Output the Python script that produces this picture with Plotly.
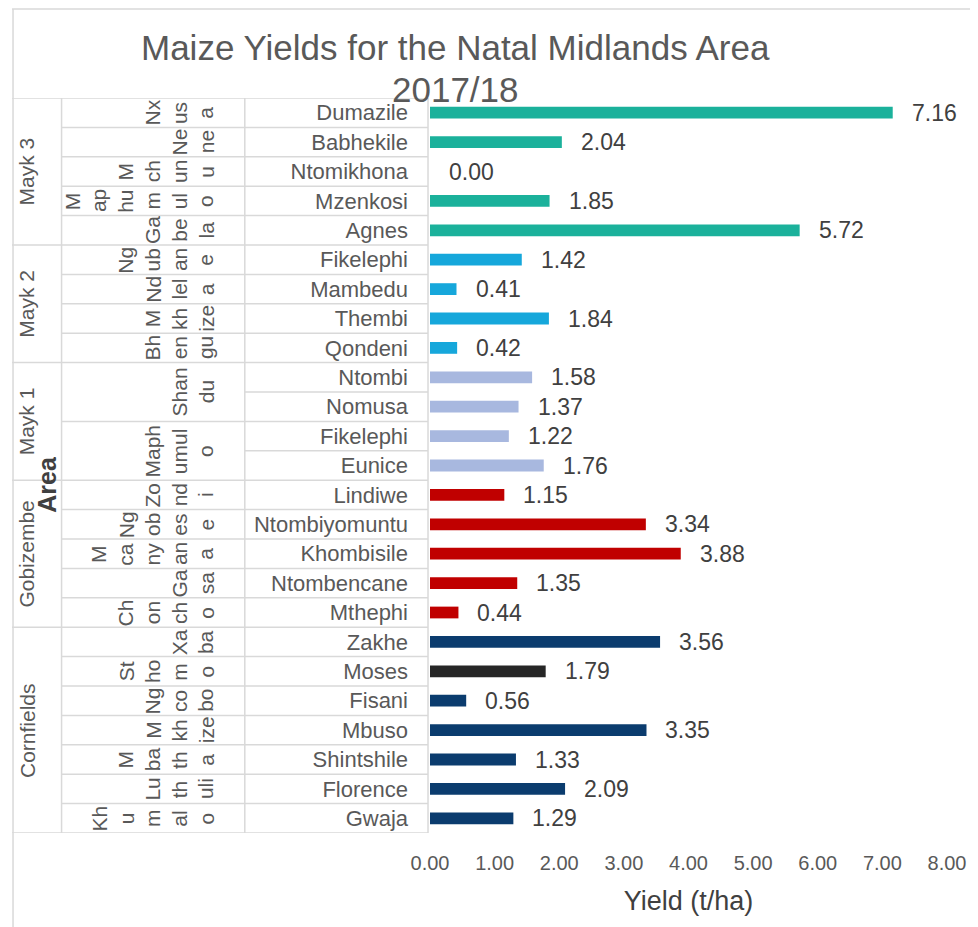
import plotly.graph_objects as go

# ---------------- data ----------------
areas = ["Mayk 3", "Mayk 2", "Mayk 1", "Gobizembe", "Cornfields"]
area_sizes = [5, 4, 4, 5, 7]

farmers = ["Dumazile", "Babhekile", "Ntomikhona", "Mzenkosi", "Agnes",
           "Fikelephi", "Mambedu", "Thembi", "Qondeni",
           "Ntombi", "Nomusa", "Fikelephi", "Eunice",
           "Lindiwe", "Ntombiyomuntu", "Khombisile", "Ntombencane", "Mthephi",
           "Zakhe", "Moses", "Fisani", "Mbuso", "Shintshile", "Florence", "Gwaja"]
yields = [7.16, 2.04, 0.00, 1.85, 5.72,
          1.42, 0.41, 1.84, 0.42,
          1.58, 1.37, 1.22, 1.76,
          1.15, 3.34, 3.88, 1.35, 0.44,
          3.56, 1.79, 0.56, 3.35, 1.33, 2.09, 1.29]

# middle category level (surnames / villages), as wrapped in the original
locations = ["Nxusa", "Nene", "Mchunu", "Maphumulo", "Gabela",
             "Ngubane", "Ndlela", "Mkhize", "Bhengu",
             "Shandu", "Maphumulo",
             "Zondi", "Ngobese", "Mcanyana", "Gasa", "Choncho",
             "Xaba", "Sthomo", "Ngcobo", "Mkhize", "Mbatha", "Luthuli", "Khumalo"]
location_lines = [["Nx", "us", "a"], ["Ne", "ne"], ["M", "ch", "un", "u"],
                  ["M", "ap", "hu", "m", "ul", "o"], ["Ga", "be", "la"],
                  ["Ng", "ub", "an", "e"], ["Nd", "lel", "a"], ["M", "kh", "ize"],
                  ["Bh", "en", "gu"],
                  ["Shan", "du"], ["Maph", "umul", "o"],
                  ["Zo", "nd", "i"], ["Ng", "ob", "es", "e"], ["M", "ca", "ny", "an", "a"],
                  ["Ga", "sa"], ["Ch", "on", "ch", "o"],
                  ["Xa", "ba"], ["St", "ho", "m", "o"], ["Ng", "co", "bo"], ["M", "kh", "ize"],
                  ["M", "ba", "th", "a"], ["Lu", "th", "uli"], ["Kh", "u", "m", "al", "o"]]
location_sizes = [1, 1, 1, 1, 1,
                  1, 1, 1, 1,
                  2, 2,
                  1, 1, 1, 1, 1,
                  1, 1, 1, 1, 1, 1, 1]

x_ticks = [0, 1, 2, 3, 4, 5, 6, 7, 8]

# ---------------- styles ----------------
area_colors = ["#1BB19B", "#16A7DB", "#A8B8DF", "#C00000", "#0B3C6E"]
highlight_index = 19          # Moses
highlight_color = "#262626"
grid_col = "#D9D9D9"
txt = "#595959"
lab = "#404040"
FONT = "Liberation Sans, Arial, sans-serif"

# page has an 8px body margin: work in reference-page pixels, convert to figure pixels
OFF = 8
W, H = 978 - OFF, 927 - OFF
PL, PR, PT, PB = 430 - OFF, 952 - OFF, 98 - OFF, 833 - OFF


def px2x(px):
    return (px - OFF - PL) / (PR - PL)


def py2y(py):
    return (PB - (py - OFF)) / (PB - PT)


n = len(farmers)
idx = list(range(n))

bar_colors = []
for c, s in zip(area_colors, area_sizes):
    bar_colors += [c] * s
bar_colors[highlight_index] = highlight_color

fig = go.Figure(go.Bar(
    x=yields, y=idx, orientation="h",
    marker=dict(color=bar_colors, line=dict(width=0)),
    width=0.4, hoverinfo="x+text", hovertext=farmers,
))

annotations = []
shapes = []

# data labels
for i, v in enumerate(yields):
    annotations.append(dict(x=v, y=i, xref="x", yref="y", text=f"{v:.2f}",
                            showarrow=False, xanchor="left", yanchor="middle",
                            xshift=17, font=dict(family=FONT, size=23, color=lab)))


def hline(y, x0, x1):
    shapes.append(dict(type="line", xref="paper", yref="y", x0=px2x(x0), x1=px2x(x1),
                       y0=y, y1=y, line=dict(color=grid_col, width=1.5), layer="below"))


def vline(x, y0, y1):
    shapes.append(dict(type="line", xref="paper", yref="paper", x0=px2x(x), x1=px2x(x),
                       y0=py2y(y0), y1=py2y(y1), line=dict(color=grid_col, width=1.5),
                       layer="below"))


group_bounds = [0]
for s in area_sizes:
    group_bounds.append(group_bounds[-1] + s)
loc_bounds = [0]
for s in location_sizes:
    loc_bounds.append(loc_bounds[-1] + s)

for b in range(n + 1):
    y = b - 0.5
    if b in group_bounds:
        hline(y, 8, 428)
    elif b in loc_bounds:
        hline(y, 58, 428)
    else:
        hline(y, 243, 428)

# outer border (top / left) and table verticals
shapes.append(dict(type="line", xref="paper", yref="paper", x0=px2x(8), x1=px2x(1000),
                   y0=py2y(9), y1=py2y(9), line=dict(color=grid_col, width=1.5)))
vline(9, 9, 960)
vline(58, 98, 833)
vline(243, 98, 833)
vline(428, 98, 833)

# outer level labels
for name, g0, s in zip(areas, group_bounds[:-1], area_sizes):
    yc = g0 + (s - 1) / 2
    annotations.append(dict(x=px2x(23), y=yc, xref="paper", yref="y", text=name,
                            textangle=-90, showarrow=False, xanchor="center",
                            yanchor="middle", font=dict(family=FONT, size=21, color=txt)))

# middle level labels (wrapped rotated text, lines right-anchored)
COL_R, COL_STEP = 204, 27
for lines, l0, s in zip(location_lines, loc_bounds[:-1], location_sizes):
    yc = l0 + (s - 1) / 2
    k = len(lines)
    for j, part in enumerate(lines):
        cx = COL_R - COL_STEP * (k - 1 - j)
        annotations.append(dict(x=px2x(cx), y=yc, xref="paper", yref="y", text=part,
                                textangle=-90, showarrow=False, xanchor="center",
                                yanchor="middle",
                                font=dict(family=FONT, size=21, color=txt)))

# axis title "Area"
annotations.append(dict(x=px2x(43), y=py2y(484), xref="paper", yref="paper",
                        text="<b>Area</b>", textangle=-90, showarrow=False,
                        xanchor="center", yanchor="middle",
                        font=dict(family=FONT, size=25, color=lab)))

# title
annotations.append(dict(x=px2x(456), y=py2y(48), xref="paper", yref="paper",
                        text="Maize Yields for the Natal Midlands Area", showarrow=False,
                        xanchor="center", yanchor="middle",
                        font=dict(family=FONT, size=35, color=txt)))
annotations.append(dict(x=px2x(456), y=py2y(89), xref="paper", yref="paper",
                        text="2017/18", showarrow=False,
                        xanchor="center", yanchor="middle",
                        font=dict(family=FONT, size=35, color=txt)))

fig.update_layout(
    width=W, height=H,
    margin=dict(l=PL, r=W - PR, t=PT, b=H - PB, pad=0),
    paper_bgcolor="white", plot_bgcolor="white",
    showlegend=False,
    font=dict(family=FONT, color=txt),
    xaxis=dict(range=[0, 8], tickvals=x_ticks, tickformat=".2f",
               showgrid=False, zeroline=False, showline=False, ticks="",
               tickfont=dict(family=FONT, size=20, color=txt),
               ticklabelstandoff=16,
               title=dict(text="Yield (t/ha)", standoff=18,
                          font=dict(family=FONT, size=27, color=lab))),
    yaxis=dict(range=[n - 0.5, -0.5], tickvals=idx, ticktext=farmers,
               showgrid=False, zeroline=False, showline=False, ticks="",
               tickfont=dict(family=FONT, size=22, color=txt),
               ticklabelstandoff=21),
    annotations=annotations,
    shapes=shapes,
    bargap=0.6,
)

fig.write_html("out.html")
